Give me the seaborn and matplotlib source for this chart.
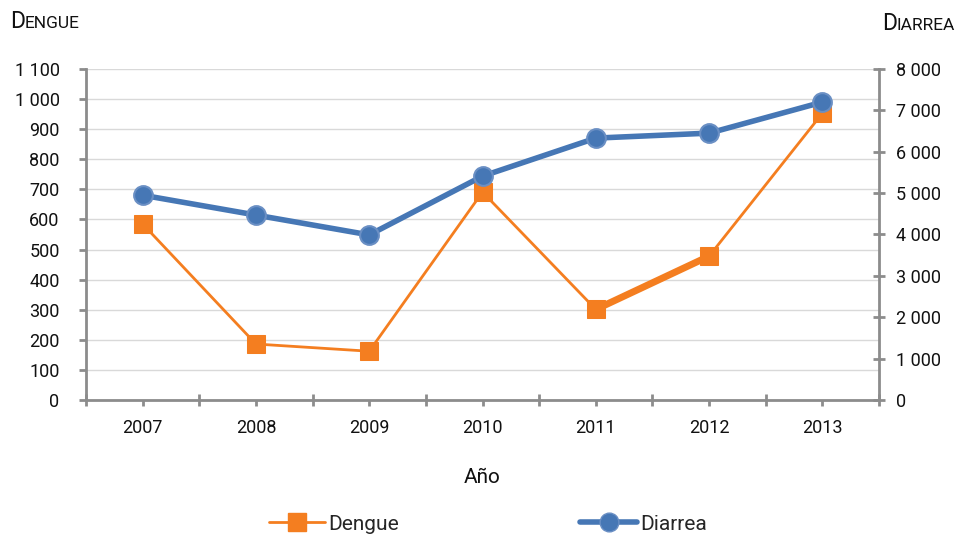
import matplotlib
matplotlib.use("Agg")
import matplotlib.pyplot as plt
import seaborn as sns
import pandas as pd
import numpy as np
from matplotlib.ticker import FuncFormatter, FixedLocator, MultipleLocator
from matplotlib.lines import Line2D
from matplotlib import font_manager

years = ["2007", "2008", "2009", "2010", "2011", "2012", "2013"]
dengue = [585, 186, 162, 691, 301, 478, 953]
diarrea = [4950, 4470, 3990, 5410, 6330, 6450, 7200]

sns.set_theme(style="white")
names = {f.name for f in font_manager.fontManager.ttflist}
fam = "Liberation Sans Narrow" if "Liberation Sans Narrow" in names else "Roboto"
plt.rcParams["font.family"] = [fam, "DejaVu Sans"]

ORANGE = "#F47E20"
BLUE = "#4677B5"
GREY = "#8C8C8C"

df = pd.DataFrame({"year": years, "x": np.arange(len(years)), "Dengue": dengue, "Diarrea": diarrea})

fig = plt.figure(figsize=(9.66, 5.4), dpi=100)
ax = fig.add_axes([0.089, 0.2593, 0.821, 0.6129])
ax2 = ax.twinx()

# Dengue (left axis)
sns.lineplot(data=df, x="x", y="Dengue", ax=ax, color=ORANGE, lw=2, marker="s",
             markersize=13, markeredgecolor=ORANGE, zorder=3)
seg = df.iloc[4:6]
sns.lineplot(data=seg, x="x", y="Dengue", ax=ax, color=ORANGE, lw=5, zorder=3)

# Diarrea (right axis)
sns.lineplot(data=df, x="x", y="Diarrea", ax=ax2, color=BLUE, lw=4, marker="o",
             markersize=13.5, markeredgecolor="#6A8FC4", markeredgewidth=1.5, zorder=3)

ax.set_xlim(-0.5, len(years) - 0.5)
ax.set_ylim(0, 1100)
ax2.set_ylim(0, 8000)

fmt = FuncFormatter(lambda v, p: f"{int(v):,}".replace(",", " "))
ax.yaxis.set_major_locator(MultipleLocator(100))
ax.yaxis.set_major_formatter(fmt)
ax2.yaxis.set_major_locator(MultipleLocator(1000))
ax2.yaxis.set_major_formatter(fmt)

ax.xaxis.set_major_locator(FixedLocator(np.arange(-0.5, len(years), 1.0)))
ax.xaxis.set_minor_locator(FixedLocator(np.arange(len(years))))
ax.set_xticklabels([""] * (len(years) + 1))
ax.set_xticklabels(years, minor=True)

ax.grid(axis="y", color="#D9D9D9", lw=1)
ax.set_axisbelow(True)

for a in (ax, ax2):
    for s in a.spines.values():
        s.set_visible(False)
ax.spines["left"].set_visible(True)
ax.spines["left"].set_color(GREY)
ax.spines["left"].set_linewidth(2)
ax.spines["bottom"].set_visible(True)
ax.spines["bottom"].set_color(GREY)
ax.spines["bottom"].set_linewidth(2)
ax2.spines["right"].set_visible(True)
ax2.spines["right"].set_color(GREY)
ax2.spines["right"].set_linewidth(2)

ax.tick_params(axis="y", which="major", direction="out", length=5, width=2, color=GREY,
               labelsize=13, pad=14, left=True, labelcolor="#111111")
ax2.tick_params(axis="y", which="major", direction="inout", length=9, width=2, color=GREY,
                labelsize=13, pad=8, right=True, labelcolor="#111111")
ax.tick_params(axis="x", which="major", direction="inout", length=9, width=2, color=GREY,
               bottom=True)
ax.tick_params(axis="x", which="minor", direction="out", length=4, width=2, color=GREY,
               labelsize=13, pad=10, bottom=True, labelcolor="#111111")

ax.set_xlabel("Año", fontsize=15, labelpad=22, color="#111111")
ax.set_ylabel("")
ax2.set_ylabel("")

# small-caps style titles
def smallcaps(x, y, word):
    t1 = fig.text(x, y, word[0], fontsize=16.5, color="#111111", va="baseline")
    fig.canvas.draw()
    bb = t1.get_window_extent()
    x2 = bb.x1 / fig.bbox.width
    fig.text(x2, y, word[1:].upper(), fontsize=12.5, color="#111111", va="baseline")

smallcaps(10 / 966, 1 - 28 / 540, "Dengue")
smallcaps(882 / 966, 1 - 30 / 540, "Diarrea")

handles = [
    Line2D([], [], color=ORANGE, lw=2, marker="s", markersize=13),
    Line2D([], [], color=BLUE, lw=4, marker="o", markersize=13.5, markeredgecolor="#6A8FC4"),
]
fig.legend(handles, ["Dengue", "Diarrea"], loc="center", bbox_to_anchor=(0.505, 1 - 524 / 540),
           ncol=2, frameon=False, fontsize=15, handlelength=2.7, handletextpad=0.15,
           columnspacing=8.7)

fig.savefig("out.png", dpi=100)
